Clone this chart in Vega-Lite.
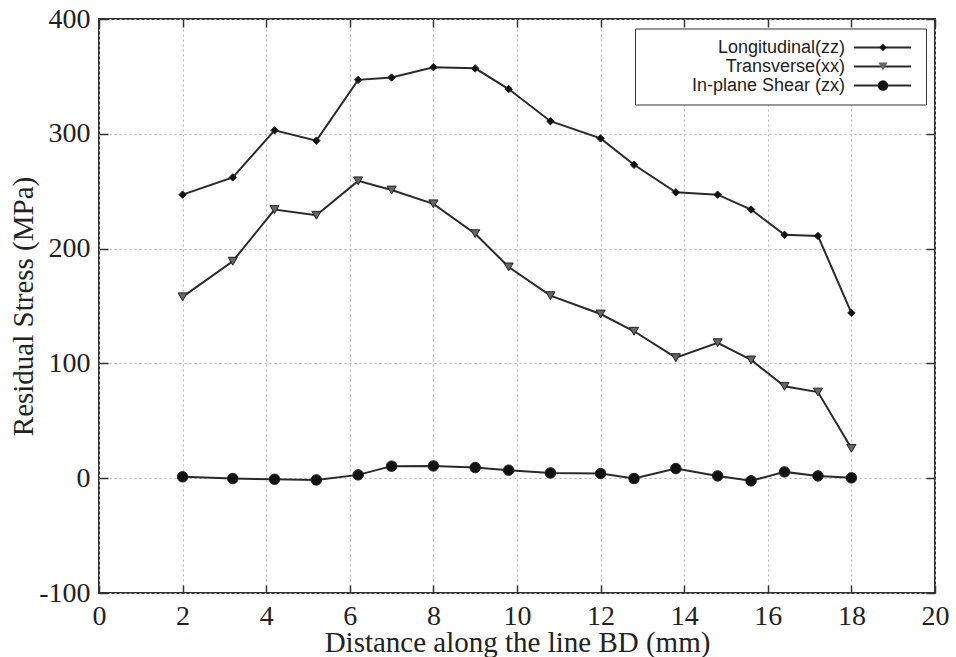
{
  "$schema": "https://vega.github.io/schema/vega-lite/v6.json",
  "width": 836,
  "height": 574,
  "autosize": "none",
  "padding": {"left": 99, "top": 19, "right": 21, "bottom": 64},
  "background": "white",
  "config": {
    "view": {"stroke": "#333", "strokeWidth": 2},
    "font": "Liberation Serif"
  },
  "data": {
    "values": [
      {"x": 2.0, "y": 247, "series": "Longitudinal(zz)"},
      {"x": 3.2, "y": 262, "series": "Longitudinal(zz)"},
      {"x": 4.2, "y": 303, "series": "Longitudinal(zz)"},
      {"x": 5.2, "y": 294, "series": "Longitudinal(zz)"},
      {"x": 6.2, "y": 347, "series": "Longitudinal(zz)"},
      {"x": 7.0, "y": 349, "series": "Longitudinal(zz)"},
      {"x": 8.0, "y": 358, "series": "Longitudinal(zz)"},
      {"x": 9.0, "y": 357, "series": "Longitudinal(zz)"},
      {"x": 9.8, "y": 339, "series": "Longitudinal(zz)"},
      {"x": 10.8, "y": 311, "series": "Longitudinal(zz)"},
      {"x": 12.0, "y": 296, "series": "Longitudinal(zz)"},
      {"x": 12.8, "y": 273, "series": "Longitudinal(zz)"},
      {"x": 13.8, "y": 249, "series": "Longitudinal(zz)"},
      {"x": 14.8, "y": 247, "series": "Longitudinal(zz)"},
      {"x": 15.6, "y": 234, "series": "Longitudinal(zz)"},
      {"x": 16.4, "y": 212, "series": "Longitudinal(zz)"},
      {"x": 17.2, "y": 211, "series": "Longitudinal(zz)"},
      {"x": 18.0, "y": 144, "series": "Longitudinal(zz)"},
      {"x": 2.0, "y": 158, "series": "Transverse(xx)"},
      {"x": 3.2, "y": 189, "series": "Transverse(xx)"},
      {"x": 4.2, "y": 234, "series": "Transverse(xx)"},
      {"x": 5.2, "y": 229, "series": "Transverse(xx)"},
      {"x": 6.2, "y": 259, "series": "Transverse(xx)"},
      {"x": 7.0, "y": 251, "series": "Transverse(xx)"},
      {"x": 8.0, "y": 239, "series": "Transverse(xx)"},
      {"x": 9.0, "y": 213, "series": "Transverse(xx)"},
      {"x": 9.8, "y": 184, "series": "Transverse(xx)"},
      {"x": 10.8, "y": 159, "series": "Transverse(xx)"},
      {"x": 12.0, "y": 143, "series": "Transverse(xx)"},
      {"x": 12.8, "y": 128, "series": "Transverse(xx)"},
      {"x": 13.8, "y": 105, "series": "Transverse(xx)"},
      {"x": 14.8, "y": 118, "series": "Transverse(xx)"},
      {"x": 15.6, "y": 103, "series": "Transverse(xx)"},
      {"x": 16.4, "y": 80, "series": "Transverse(xx)"},
      {"x": 17.2, "y": 75, "series": "Transverse(xx)"},
      {"x": 18.0, "y": 26, "series": "Transverse(xx)"},
      {"x": 2.0, "y": 1.2, "series": "In-plane Shear (zx)"},
      {"x": 3.2, "y": -0.3, "series": "In-plane Shear (zx)"},
      {"x": 4.2, "y": -0.9, "series": "In-plane Shear (zx)"},
      {"x": 5.2, "y": -1.5, "series": "In-plane Shear (zx)"},
      {"x": 6.2, "y": 2.9, "series": "In-plane Shear (zx)"},
      {"x": 7.0, "y": 10.5, "series": "In-plane Shear (zx)"},
      {"x": 8.0, "y": 10.7, "series": "In-plane Shear (zx)"},
      {"x": 9.0, "y": 9.3, "series": "In-plane Shear (zx)"},
      {"x": 9.8, "y": 7.0, "series": "In-plane Shear (zx)"},
      {"x": 10.8, "y": 4.6, "series": "In-plane Shear (zx)"},
      {"x": 12.0, "y": 4.1, "series": "In-plane Shear (zx)"},
      {"x": 12.8, "y": -0.3, "series": "In-plane Shear (zx)"},
      {"x": 13.8, "y": 8.4, "series": "In-plane Shear (zx)"},
      {"x": 14.8, "y": 2.0, "series": "In-plane Shear (zx)"},
      {"x": 15.6, "y": -2.3, "series": "In-plane Shear (zx)"},
      {"x": 16.4, "y": 5.5, "series": "In-plane Shear (zx)"},
      {"x": 17.2, "y": 2.0, "series": "In-plane Shear (zx)"},
      {"x": 18.0, "y": 0.3, "series": "In-plane Shear (zx)"}
    ]
  },
  "layer": [
    {
      "mark": {"type": "line", "strokeWidth": 2},
      "encoding": {
        "x": {
          "field": "x", "type": "quantitative",
          "scale": {"domain": [0, 20], "nice": false, "zero": false},
          "axis": {
            "orient": "bottom",
            "values": [0, 2, 4, 6, 8, 10, 12, 14, 16, 18, 20],
            "title": "Distance along the line BD (mm)",
            "titleFont": "Liberation Serif", "titleFontSize": 29, "titleFontWeight": "normal", "titleColor": "#222",
            "titlePadding": -2,
            "labelFont": "Liberation Serif", "labelFontSize": 28, "labelColor": "#222",
            "labelPadding": 17, "labelFlush": false, "labelOverlap": false,
            "tickSize": -8, "tickColor": "#333", "tickWidth": 1.5,
            "domain": false,
            "grid": true, "gridColor": "#b8b8b8", "gridDash": [2, 3], "gridWidth": 1
          }
        },
        "y": {
          "field": "y", "type": "quantitative",
          "scale": {"domain": [-100, 400], "nice": false, "zero": false},
          "axis": {
            "orient": "left",
            "values": [-100, 0, 100, 200, 300, 400],
            "labelExpr": "datum.value < 0 ? '-' + abs(datum.value) : '' + datum.value",
            "title": "Residual Stress (MPa)",
            "titleFont": "Liberation Serif", "titleFontSize": 29, "titleFontWeight": "normal", "titleColor": "#222",
            "titlePadding": 0,
            "labelFont": "Liberation Serif", "labelFontSize": 28, "labelColor": "#222",
            "labelPadding": 18, "labelFlush": false, "labelOverlap": false,
            "tickSize": -9, "tickColor": "#333", "tickWidth": 1.5,
            "domain": false,
            "grid": true, "gridColor": "#b8b8b8", "gridDash": [2, 3], "gridWidth": 1
          }
        },
        "color": {
          "field": "series", "type": "nominal",
          "scale": {"range": ["#2a2a2a", "#2a2a2a", "#2a2a2a"]},
          "legend": {
            "orient": "none", "legendX": 536, "legendY": 9.5,
            "title": null,
            "values": ["Longitudinal(zz)", "Transverse(xx)", "In-plane Shear (zx)"],
            "padding": 10,
            "strokeColor": "#333", "fillColor": "white",
            "labelFont": "Liberation Sans", "labelFontSize": 18, "labelColor": "#222",
            "labelAlign": "right", "labelOffset": 182, "labelLimit": 400,
            "symbolType": "M40,0H51.4M51.6,0",
            "symbolSize": 100, "symbolStrokeWidth": 1.8,
            "rowPadding": 1
          }
        }
      }
    },
    {
      "mark": {"type": "point", "filled": true, "stroke": "#222", "strokeWidth": 1, "opacity": 1},
      "encoding": {
        "x": {
          "field": "x", "type": "quantitative",
          "axis": {
            "orient": "top", "values": [0, 2, 4, 6, 8, 10, 12, 14, 16, 18, 20],
            "labels": false, "title": null, "domain": false, "grid": false,
            "tickSize": -8, "tickColor": "#333", "tickWidth": 1.5
          }
        },
        "y": {
          "field": "y", "type": "quantitative",
          "axis": {
            "orient": "right", "values": [-100, 0, 100, 200, 300, 400],
            "labels": false, "title": null, "domain": false, "grid": false,
            "tickSize": -9, "tickColor": "#333", "tickWidth": 1.5
          }
        },
        "shape": {
          "field": "series", "type": "nominal",
          "scale": {
            "domain": ["Longitudinal(zz)", "Transverse(xx)", "In-plane Shear (zx)"],
            "range": ["diamond", "triangle-down", "circle"]
          },
          "legend": {
            "orient": "none", "legendX": 765, "legendY": 9.5,
            "title": null, "padding": 10,
            "labelFont": "Liberation Sans", "labelFontSize": 18, "labelOpacity": 0, "labelLimit": 20,
            "symbolStrokeColor": "#222", "symbolStrokeWidth": 1,
            "rowPadding": 1
          }
        },
        "fill": {
          "field": "series", "type": "nominal",
          "scale": {
            "domain": ["Longitudinal(zz)", "Transverse(xx)", "In-plane Shear (zx)"],
            "range": ["#111", "#666", "#111"]
          },
          "legend": {
            "orient": "none", "legendX": 765, "legendY": 9.5,
            "title": null, "padding": 10,
            "labelFont": "Liberation Sans", "labelFontSize": 18, "labelOpacity": 0, "labelLimit": 20,
            "symbolStrokeColor": "#222", "symbolStrokeWidth": 1,
            "rowPadding": 1
          }
        },
        "size": {
          "field": "series", "type": "nominal",
          "scale": {
            "domain": ["Longitudinal(zz)", "Transverse(xx)", "In-plane Shear (zx)"],
            "range": [55, 110, 80]
          },
          "legend": {
            "orient": "none", "legendX": 765, "legendY": 9.5,
            "title": null, "padding": 10,
            "labelFont": "Liberation Sans", "labelFontSize": 18, "labelOpacity": 0, "labelLimit": 20,
            "symbolStrokeColor": "#222", "symbolStrokeWidth": 1,
            "rowPadding": 1
          }
        }
      }
    }
  ],
  "resolve": {"axis": {"x": "independent", "y": "independent"}}
}
